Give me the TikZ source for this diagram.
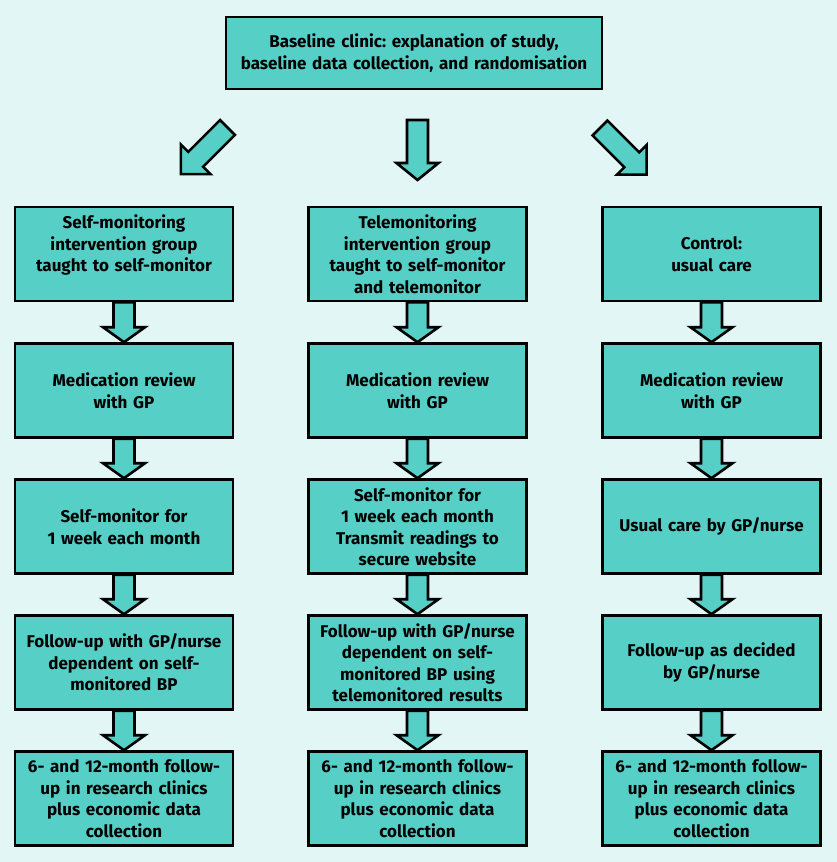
\documentclass[tikz,border=0pt]{standalone}
\usepackage{fontspec}
\setmainfont{Fira Sans}
\frenchspacing
\usetikzlibrary{calc}
\definecolor{bgc}{HTML}{E2F6F5}
\definecolor{boxc}{HTML}{56CFC7}
\tikzset{
  stepbox/.style={draw=black, line width=2.6pt, fill=boxc, rectangle,
    minimum width=218pt, minimum height=94pt, text width=214pt, align=center,
    font=\fontsize{17}{21.5}\selectfont\bfseries, inner sep=0pt},
  blockarrow/.style={draw=black, line width=2.6pt, fill=boxc, line join=miter},
}
\newcommand{\varrow}[2]{%
  \draw[blockarrow] ($(#1.south)+(-10.5,0)$) -- ($(#1.south)+(10.5,0)$)
    -- ($(#2.north)+(10.5,-15)$) -- ($(#2.north)+(21,-15)$) -- (#2.north)
    -- ($(#2.north)+(-21,-15)$) -- ($(#2.north)+(-10.5,-15)$) -- cycle;}
\newcommand{\larrow}[2]{% length, head length, drawn along +x
  \draw[blockarrow] (0,-10.5) -- ({#1-#2},-10.5) -- ({#1-#2},-21) -- (#1,0)
    -- ({#1-#2},21) -- ({#1-#2},10.5) -- (0,10.5) -- cycle;}
\begin{document}
\begin{tikzpicture}[x=1pt,y=-1pt]
\fill[bgc] (0,0) rectangle (837,862);
\useasboundingbox (0,0) rectangle (837,862);

\node[stepbox, minimum width=376pt, minimum height=72pt, text width=370pt] (top) at (414,53)
  {Baseline clinic: explanation of study,\\baseline data collection, and randomisation};

% left column
\node[stepbox] (l1) at (124,254) {Self-monitoring\\intervention group\\taught to self-monitor\\\mbox{}};
\node[stepbox] (l2) at (124,390.5) {Medication review\\with GP};
\node[stepbox] (l3) at (124,526.5) {Self-monitor for\\1 week each month};
\node[stepbox] (l4) at (124,662.5) {Follow-up with GP/nurse\\dependent on self-\\monitored BP};
\node[stepbox] (l5) at (124,798.5) {6- and 12-month follow-\\up in research clinics\\plus economic data\\collection};

% middle column
\node[stepbox] (m1) at (417.5,254) {Telemonitoring\\intervention group\\taught to self-monitor\\and telemonitor};
\node[stepbox] (m2) at (417.5,390.5) {Medication review\\with GP};
\node[stepbox] (m3) at (417.5,526.5) {Self-monitor for\\1 week each month\\Transmit readings to\\secure website};
\node[stepbox] (m4) at (417.5,662.5) {Follow-up with GP/nurse\\dependent on self-\\monitored BP using\\telemonitored results};
\node[stepbox] (m5) at (417.5,798.5) {6- and 12-month follow-\\up in research clinics\\plus economic data\\collection};

% right column
\node[stepbox] (r1) at (711.5,254) {Control:\\usual care};
\node[stepbox] (r2) at (711.5,390.5) {Medication review\\with GP};
\node[stepbox] (r3) at (711.5,526.5) {Usual care by GP/nurse};
\node[stepbox] (r4) at (711.5,662.5) {Follow-up as decided\\by GP/nurse};
\node[stepbox] (r5) at (711.5,798.5) {6- and 12-month follow-\\up in research clinics\\plus economic data\\collection};

\foreach \c in {l,m,r}{
  \varrow{\c1}{\c2}
  \varrow{\c2}{\c3}
  \varrow{\c3}{\c4}
  \varrow{\c4}{\c5}
}

% arrows from the top box
\begin{scope}[shift={(227.5,127.5)}, rotate=225]
  \larrow{66}{21}
\end{scope}
\begin{scope}[shift={(417.5,120)}, rotate=270]
  \larrow{60}{17}
\end{scope}
\begin{scope}[shift={(600,128)}, rotate=315]
  \larrow{66}{21}
\end{scope}
\end{tikzpicture}
\end{document}
